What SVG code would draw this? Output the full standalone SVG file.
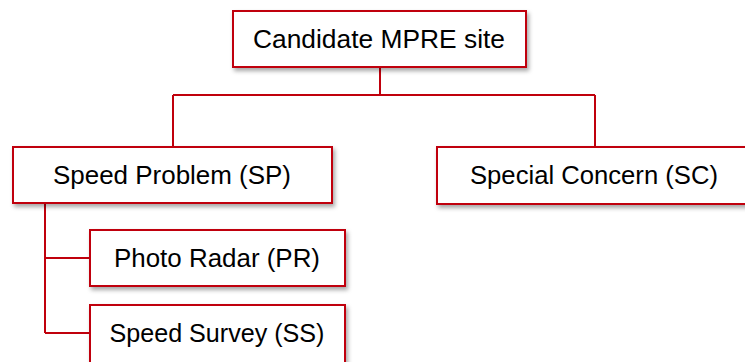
<svg xmlns="http://www.w3.org/2000/svg" width="745" height="362" viewBox="0 0 745 362">
<defs>
<filter id="sh" x="-10%" y="-20%" width="130%" height="160%">
<feDropShadow dx="2" dy="3" stdDeviation="2" flood-color="#000" flood-opacity="0.35"/>
</filter>
<style>
.box{fill:#fff;stroke:#C0000C;stroke-width:2;filter:url(#sh)}
.t{font-family:"Liberation Sans",Arial,sans-serif;font-size:25.5px;fill:#000;text-anchor:middle}
.c{fill:none;stroke:#C0000C;stroke-width:2}
</style>
</defs>
<rect width="745" height="362" fill="#fff"/>
<g id="connectors">
<path class="c" d="M380 67 V95 M173 95 H595 M173 95 V147 M595 95 V147"/>
<path class="c" d="M45 203 V333 M45 258 H90 M45 333 H90"/>
</g>
<g id="root">
<rect class="box" x="233" y="11" width="293" height="56"/>
<text class="t" x="379" y="48" textLength="252" lengthAdjust="spacingAndGlyphs">Candidate MPRE site</text>
</g>
<g id="sp">
<rect class="box" x="13" y="147" width="319" height="56"/>
<text class="t" x="172" y="184" textLength="238" lengthAdjust="spacingAndGlyphs">Speed Problem (SP)</text>
</g>
<g id="sc">
<rect class="box" x="437" y="147" width="320" height="57"/>
<text class="t" x="594" y="184" textLength="248" lengthAdjust="spacingAndGlyphs">Special Concern (SC)</text>
</g>
<g id="pr">
<rect class="box" x="90" y="230" width="255" height="56"/>
<text class="t" x="217" y="267" textLength="206" lengthAdjust="spacingAndGlyphs">Photo Radar (PR)</text>
</g>
<g id="ss">
<rect class="box" x="90" y="305" width="255" height="60"/>
<text class="t" x="217" y="342" textLength="215" lengthAdjust="spacingAndGlyphs">Speed Survey (SS)</text>
</g>
</svg>
